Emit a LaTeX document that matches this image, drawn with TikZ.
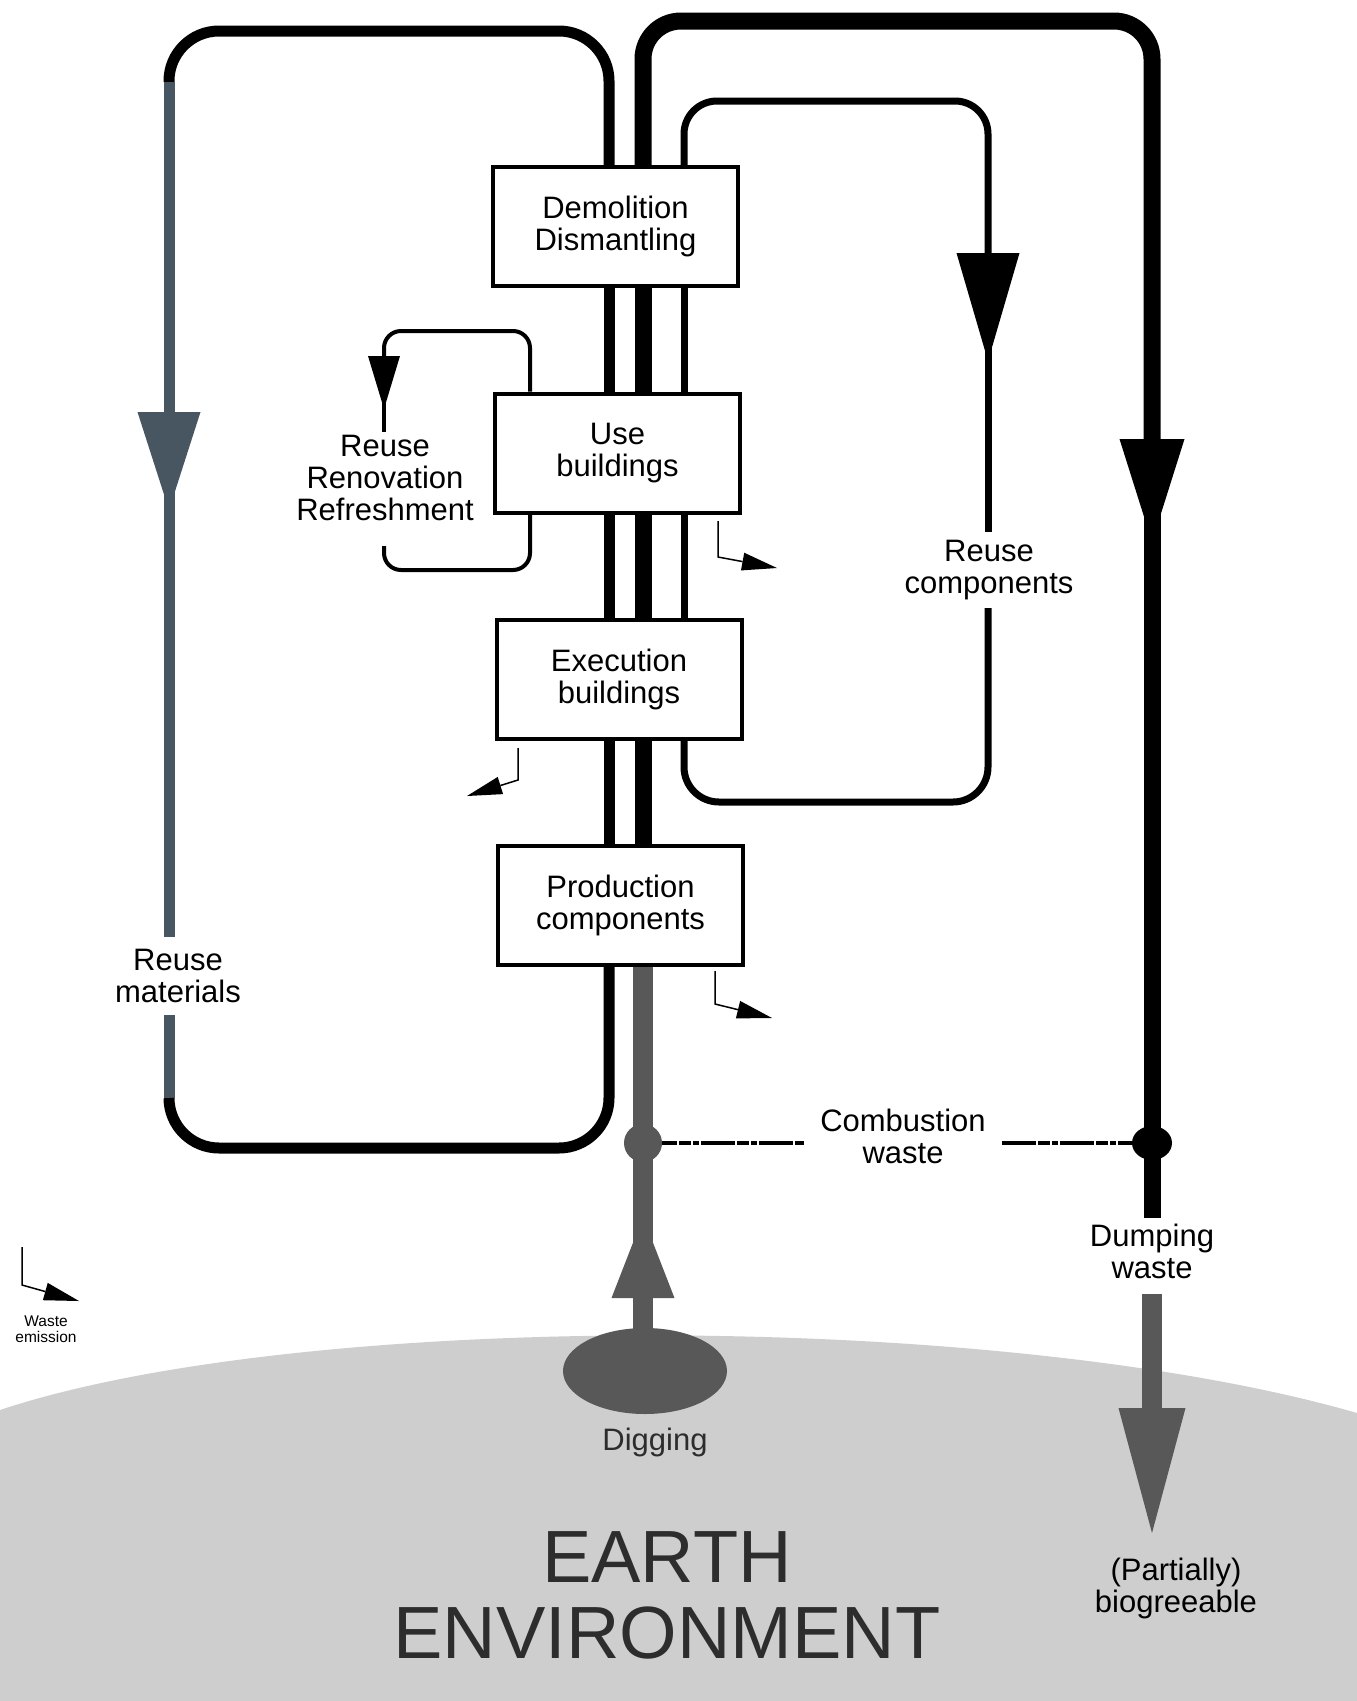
\documentclass[tikz,border=0pt]{standalone}
\usepackage{fontspec}
\setmainfont{Liberation Sans}
\usetikzlibrary{arrows.meta,shapes.geometric}
\pgfdeclarelayer{earthlayer}
\pgfdeclarelayer{lines}
\pgfsetlayers{earthlayer,lines,main}
\definecolor{digc}{RGB}{88,88,88}
\definecolor{slate}{RGB}{72,86,98}
\definecolor{earthc}{RGB}{206,206,206}
\definecolor{darktext}{RGB}{45,45,45}
\newcommand\lblfont{\fontsize{31}{32}\selectfont}
\tikzset{
  box/.style={draw, line width=4pt, fill=white, minimum width=245pt, minimum height=119pt, inner sep=0pt, font=\lblfont, align=center},
  lbl/.style={font=\lblfont, align=center, inner sep=0pt},
  lineA/.style={line width=11pt},
  lineB/.style={line width=17pt},
  lineC/.style={line width=7pt},
  lineS/.style={line width=4pt},
  digline/.style={line width=20pt, draw=digc},
  emit/.style={line width=1.5pt, -{Triangle[length=35pt,width=18pt,line width=0pt]}},
  cwline/.style={line width=4pt, dash pattern=on 34pt off 2pt on 12pt off 2pt on 6pt off 2pt},
}
\begin{document}
\begin{tikzpicture}[x=1pt,y=-1pt]
\useasboundingbox (0,0) rectangle (1357,1701);
\begin{pgfonlayer}{earthlayer}
  \fill[white] (0,0) rectangle (1357,1701);
  \fill[earthc] (0,1410) .. controls (300,1310) and (1000,1310) .. (1357,1413) -- (1357,1701) -- (0,1701) -- cycle;
\end{pgfonlayer}

% boxes
\node[box] (dem) at (615.5,226.5) {Demolition\\Dismantling};
\node[box] (use) at (617.5,453) {Use\\buildings};
\node[box] (exe) at (619,679) {Execution\\buildings};
\node[box] (prod) at (620.5,905.5) {Production\\components};

% labels
\node[lbl, inner sep=3pt] (rrr) at (385,478) {Reuse\\Renovation\\Refreshment};
\node[lbl, inner sep=8pt] (rc) at (989,570) {Reuse\\components};
\node[lbl, inner sep=12pt] (rm) at (178,976) {Reuse\\materials};
\node[lbl, inner xsep=16pt] (cw) at (903,1136) {Combustion\\waste};
\node[lbl, inner sep=5pt] (dw) at (1152,1251) {Dumping\\waste};
\node[lbl, text=darktext] (dgt) at (655,1442) {Digging};
\node[lbl] (pb) at (1176,1588) {(Partially)\\biogreeable};
\node[font=\fontsize{74}{76}\selectfont, align=center, inner sep=0pt, text=darktext] (earth) at (667,1595.5) {EARTH\\ENVIRONMENT};
\node[font=\fontsize{15.5}{16}\selectfont, align=center, inner sep=0pt] (we) at (46,1329.5) {Waste\\emission};

% junctions and digging
\node[ellipse, fill=digc, minimum width=164pt, minimum height=86pt, inner sep=0pt] (dig) at (645,1371) {};
\node[circle, fill=digc, minimum size=38pt, inner sep=0pt] (jL) at (643,1143) {};
\node[ellipse, fill=black, minimum width=40pt, minimum height=34pt, inner sep=0pt] (jR) at (1152,1143) {};

% coordinates
\coordinate (xA) at (609,0);
\coordinate (xB) at (643,0);
\coordinate (xC) at (684,0);
\coordinate (xS) at (530,0);
\coordinate (tipA) at (169,510);  \coordinate (midA) at (169,470);
\coordinate (tipB) at (1152,542); \coordinate (midB) at (1152,500);
\coordinate (tipC) at (988,361);  \coordinate (midC) at (988,320);
\coordinate (tipS) at (384,409);  \coordinate (midS) at (384,390);
\coordinate (tipD) at (643,1217); \coordinate (midD) at (643,1250);
\coordinate (tipE) at (1152,1533);
\coordinate (sBot) at ([yshift=-22pt]rrr.south);

\begin{pgfonlayer}{lines}
  % left loop: reuse materials
  \draw[lineA, rounded corners=50pt] (dem.north -| xA) -- (609,31) -- (169,31) -- (169,82);
  \draw[lineA, draw=slate, -{Triangle[length=98pt,width=63pt,line width=0pt]}] (169,82) -- (tipA);
  \draw[lineA, draw=slate] (midA) -- (midA |- rm.north);
  \draw[lineA, draw=slate] (midA |- rm.south) -- (169,1098);
  \draw[lineA, rounded corners=50pt] (169,1098) -- (169,1148) -- (609,1148) -- (prod.south -| xA);
  \draw[lineA] (prod.north -| xA) -- (exe.south -| xA);
  \draw[lineA] (exe.north -| xA) -- (use.south -| xA);
  \draw[lineA] (use.north -| xA) -- (dem.south -| xA);

  % main flow
  \draw[digline, -{Triangle[length=81pt,width=63pt,line width=0pt]}] (dig.center -| xB) -- (tipD);
  \draw[digline] (midD) -- (jL.center);
  \draw[digline] (jL.center) -- (prod.south -| xB);
  \draw[lineB] (prod.north -| xB) -- (exe.south -| xB);
  \draw[lineB] (exe.north -| xB) -- (use.south -| xB);
  \draw[lineB] (use.north -| xB) -- (dem.south -| xB);
  \draw[lineB, rounded corners=38pt, -{Triangle[length=103pt,width=65pt,line width=0pt]}] (dem.north -| xB) -- (643,21) -- (1152,21) -- (tipB);
  \draw[lineB] (midB) -- (jR.center);
  \draw[lineB] (jR.center) -- (dw.north);
  \draw[digline, -{Triangle[length=125pt,width=67pt,line width=0pt]}] ([yshift=-10pt]dw.south) -- (tipE);

  % combustion waste
  \draw[cwline] (jL.center) -- (cw.west |- jL);
  \draw[cwline] (cw.east |- jR) -- (jR.center);

  % reuse components loop
  \draw[lineC, rounded corners=33pt, -{Triangle[length=108pt,width=63pt,line width=0pt]}] (dem.north -| xC) -- (684,101) -- (988,101) -- (tipC);
  \draw[lineC] (midC) -- (midC |- rc.north);
  \draw[lineC, rounded corners=35pt] (tipC |- rc.south) -- (988,802) -- (684,802) -- (exe.south -| xC);
  \draw[lineC] (exe.north -| xC) -- (use.south -| xC);
  \draw[lineC] (use.north -| xC) -- (dem.south -| xC);

  % reuse renovation refreshment loop
  \draw[lineS, rounded corners=17pt, -{Triangle[length=53pt,width=32pt,line width=0pt]}] (use.north -| xS) -- (530,331) -- (384,331) -- (tipS);
  \draw[lineS] (midS) -- (midS |- rrr.north);
  \draw[lineS, rounded corners=17pt] (tipS |- sBot) -- (384,570) -- (530,570) -- (use.south -| xS);
\end{pgfonlayer}

% waste emission arrows
\coordinate (e1a) at (22,1247); \coordinate (e1b) at (22,1285); \coordinate (e1c) at (79,1301);
\coordinate (e2a) at (718,521); \coordinate (e2b) at (718,557); \coordinate (e2c) at (777,568);
\coordinate (e3a) at (518,748); \coordinate (e3b) at (518,780); \coordinate (e3c) at (467,796);
\coordinate (e4a) at (715,971); \coordinate (e4b) at (715,1004); \coordinate (e4c) at (772,1018);
\draw[emit] (e1a) -- (e1b) -- (e1c);
\draw[emit] (e2a) -- (e2b) -- (e2c);
\draw[emit] (e3a) -- (e3b) -- (e3c);
\draw[emit] (e4a) -- (e4b) -- (e4c);
\end{tikzpicture}
\end{document}
